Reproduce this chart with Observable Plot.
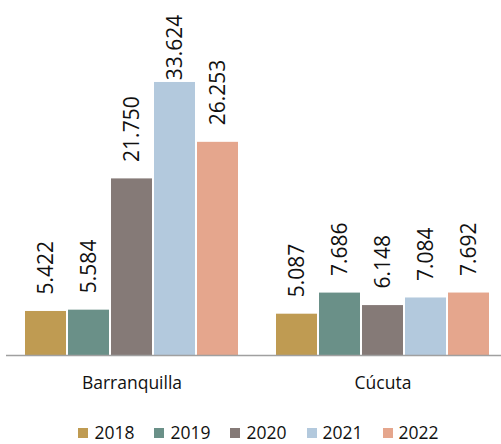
<!DOCTYPE html>
<html>
<head>
<meta charset="utf-8">
<script src="https://cdn.jsdelivr.net/npm/d3@7"></script>
<script src="https://cdn.jsdelivr.net/npm/@observablehq/plot@0.6"></script>
<style>
  html, body { margin: 0; padding: 0; background: #fff; }
  body { width: 501px; height: 444px; overflow: hidden; font-family: "Open Sans", sans-serif; }
  #legend { display: flex; justify-content: center; align-items: center; padding-top: 12px; padding-left: 16px; line-height: 20px; font-size: 17.5px; color: #111; }
  .item { display: flex; align-items: center; margin-right: 20px; }
  .item:last-child { margin-right: 0; }
  .sw { width: 10px; height: 10px; margin-right: 6px; margin-top: 2px; }
</style>
</head>
<body>
<div id="chart"></div>
<div id="legend"></div>
<script>
const cities = ["Barranquilla", "Cúcuta"];
const years = ["2018", "2019", "2020", "2021", "2022"];
const barranquilla = [5.422, 5.584, 21.750, 33.624, 26.253];
const cucuta = [5.087, 7.686, 6.148, 7.084, 7.692];
const colors = ["#BF9B52", "#6A9088", "#857A77", "#B3C9DD", "#E5A68D"];

const series = [barranquilla, cucuta];
const data = [];
cities.forEach((c, ci) => years.forEach((y, yi) => data.push({city: c, year: y, value: series[ci][yi]})));

const labelCap = 31.8;

const chart = Plot.plot({
  width: 501,
  height: 410,
  marginLeft: 23,
  marginRight: 10,
  marginTop: 0,
  marginBottom: 55,
  style: {fontFamily: "Open Sans", fontSize: "17.5px", color: "#111", background: "#fff"},
  fx: {domain: cities, paddingInner: 0.1355, paddingOuter: 0, axis: "bottom", tickSize: 0, tickPadding: 21, label: null},
  x: {domain: years, paddingInner: 0.04, paddingOuter: 0, axis: null},
  y: {domain: [0, 43.72], axis: null},
  color: {domain: years, range: colors},
  marks: [
    Plot.barY(data, {fx: "city", x: "year", y: "value", fill: "year"}),
    Plot.ruleY([0], {stroke: "#A0A0A0", strokeWidth: 1.5, insetLeft: -17, insetRight: -17}),
    Plot.text(data, {
      fx: "city", x: "year",
      y: d => Math.min(d.value, labelCap),
      text: d => d.value.toFixed(3),
      rotate: -90, textAnchor: "start", dy: -17,
      fontSize: 21, fill: "#111"
    })
  ]
});
document.getElementById("chart").appendChild(chart);

const legend = document.getElementById("legend");
years.forEach((y, i) => {
  const item = document.createElement("div");
  item.className = "item";
  const sw = document.createElement("div");
  sw.className = "sw";
  sw.style.background = colors[i];
  const t = document.createElement("span");
  t.textContent = y;
  item.appendChild(sw);
  item.appendChild(t);
  legend.appendChild(item);
});
</script>
</body>
</html>
